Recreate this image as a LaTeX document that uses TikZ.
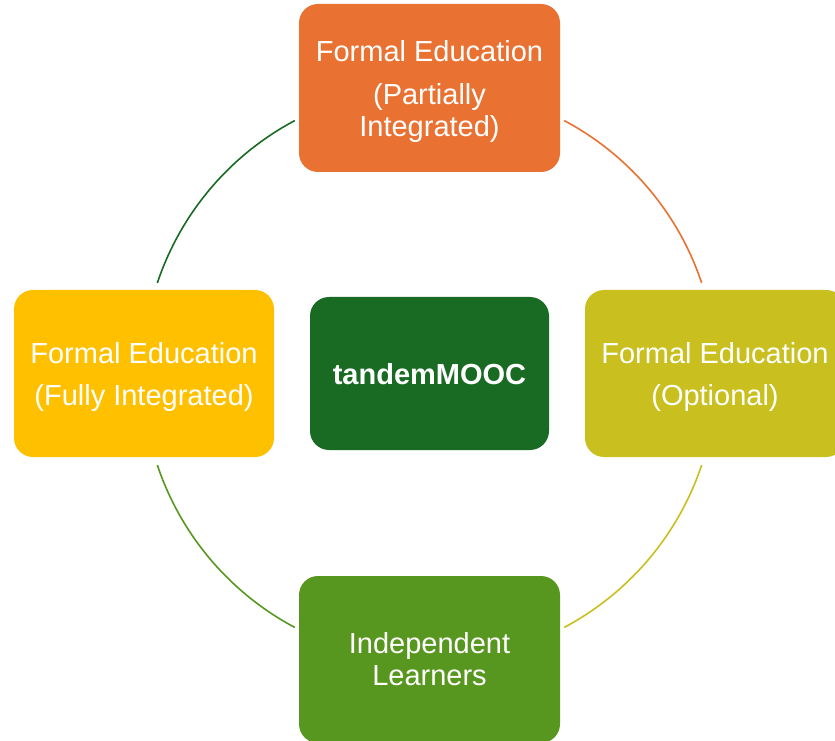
\documentclass[tikz,border=0pt]{standalone}
\usepackage{fontspec}
\setmainfont{Liberation Sans}
\definecolor{corange}{HTML}{E97132}
\definecolor{cyellow}{HTML}{FFC000}
\definecolor{colive}{HTML}{C9BF1F}
\definecolor{cgreen}{HTML}{58971F}
\definecolor{cdark}{HTML}{196B24}
\tikzset{
  box/.style={rounded corners=19pt, minimum width=260pt, minimum height=167pt, text=white, align=center, font=\fontsize{29}{32}\selectfont, inner sep=0pt},
  boxtext/.style={text=white, align=center, font=\fontsize{29}{32}\selectfont, inner sep=0pt, yshift=-3.5pt},
  arcline/.style={line width=1.6pt}
}
\begin{document}
\begin{tikzpicture}[x=1pt,y=1pt]
\useasboundingbox (0,0) rectangle (835,740);
\clip (0,0) rectangle (835,740);
\coordinate (O) at (429.5,366);
\node[box, fill=corange, minimum width=261pt, minimum height=168pt,
  label={[boxtext]center:Formal Education\\[10.5pt](Partially\\Integrated)}] (top) at (429.5,652) {};
\node[box, fill=cyellow,
  label={[boxtext]center:Formal Education\\[10pt](Fully Integrated)}] (left) at (144,366.5) {};
\node[box, fill=colive,
  label={[boxtext]center:Formal Education\\[10pt](Optional)}] (right) at (715,366.5) {};
\node[box, fill=cgreen, minimum width=261pt] (bottom) at (429.5,80.5) {Independent\\Learners};
\node[box, fill=cdark, minimum width=239pt, minimum height=153pt, font=\fontsize{29}{32}\selectfont\bfseries,
  text depth=0pt] (center) at (429.5,366.5) {tandemMOOC};
\draw[arcline, cdark] (O) ++(118:287) arc[start angle=118, end angle=161.5, radius=287];
\draw[arcline, corange] (O) ++(62:287) arc[start angle=62, end angle=18.5, radius=287];
\draw[arcline, colive] (O) ++(-18.5:287) arc[start angle=-18.5, end angle=-62, radius=287];
\draw[arcline, cgreen] (O) ++(-118:287) arc[start angle=-118, end angle=-161.5, radius=287];
\end{tikzpicture}
\end{document}
